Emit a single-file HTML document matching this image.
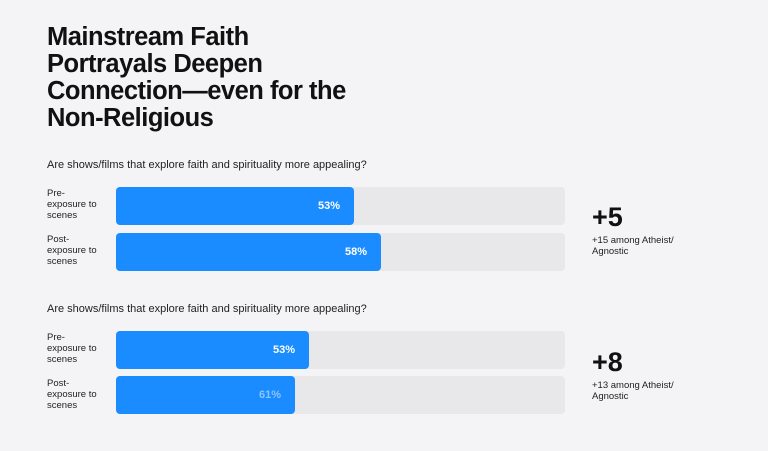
<!DOCTYPE html>
<html><head><style>
body{margin:0;width:768px;height:451px;background:#f4f4f6;font-family:"Liberation Sans",sans-serif;position:relative;overflow:hidden;color:#111}
.t{position:absolute;left:47px;top:24px;font-size:25.5px;font-weight:bold;line-height:27px;letter-spacing:-0.5px}
.q{position:absolute;left:47px;font-size:11px;color:#222}
.lab{position:absolute;left:47px;font-size:9.5px;line-height:11px;color:#222}
.tr{position:absolute;left:116px;width:449px;height:38px;background:#e8e8ea;border-radius:4px}
.f{position:absolute;left:116px;height:38px;background:#1a8cff;border-radius:4px;color:#fff;font-weight:bold;font-size:11px;box-sizing:border-box;padding-right:14px;text-align:right;line-height:38px}
.big{position:absolute;left:592px;font-size:27px;font-weight:bold}
.sm{position:absolute;left:592px;font-size:9.5px;line-height:11px;color:#222}
</style></head><body>
<div class="t">Mainstream Faith<br>Portrayals Deepen<br>Connection—even for the<br>Non-Religious</div>
<div class="q" style="top:159px">Are shows/films that explore faith and spirituality more appealing?</div>
<div class="lab" style="top:188px">Pre-<br>exposure to<br>scenes</div>
<div class="lab" style="top:234px">Post-<br>exposure to<br>scenes</div>
<div class="tr" style="top:187px"></div><div class="f" style="top:187px;width:238px">53%</div>
<div class="tr" style="top:233px"></div><div class="f" style="top:233px;width:265px">58%</div>
<div class="big" style="top:202px">+5</div>
<div class="sm" style="top:235px">+15 among Atheist/<br>Agnostic</div>
<div class="q" style="top:303px">Are shows/films that explore faith and spirituality more appealing?</div>
<div class="lab" style="top:332px">Pre-<br>exposure to<br>scenes</div>
<div class="lab" style="top:378px">Post-<br>exposure to<br>scenes</div>
<div class="tr" style="top:331px"></div><div class="f" style="top:331px;width:193px">53%</div>
<div class="tr" style="top:376px"></div><div class="f" style="top:376px;width:179px;color:#8cc4ff">61%</div>
<div class="big" style="top:347px">+8</div>
<div class="sm" style="top:380px">+13 among Atheist/<br>Agnostic</div>
</body></html>
